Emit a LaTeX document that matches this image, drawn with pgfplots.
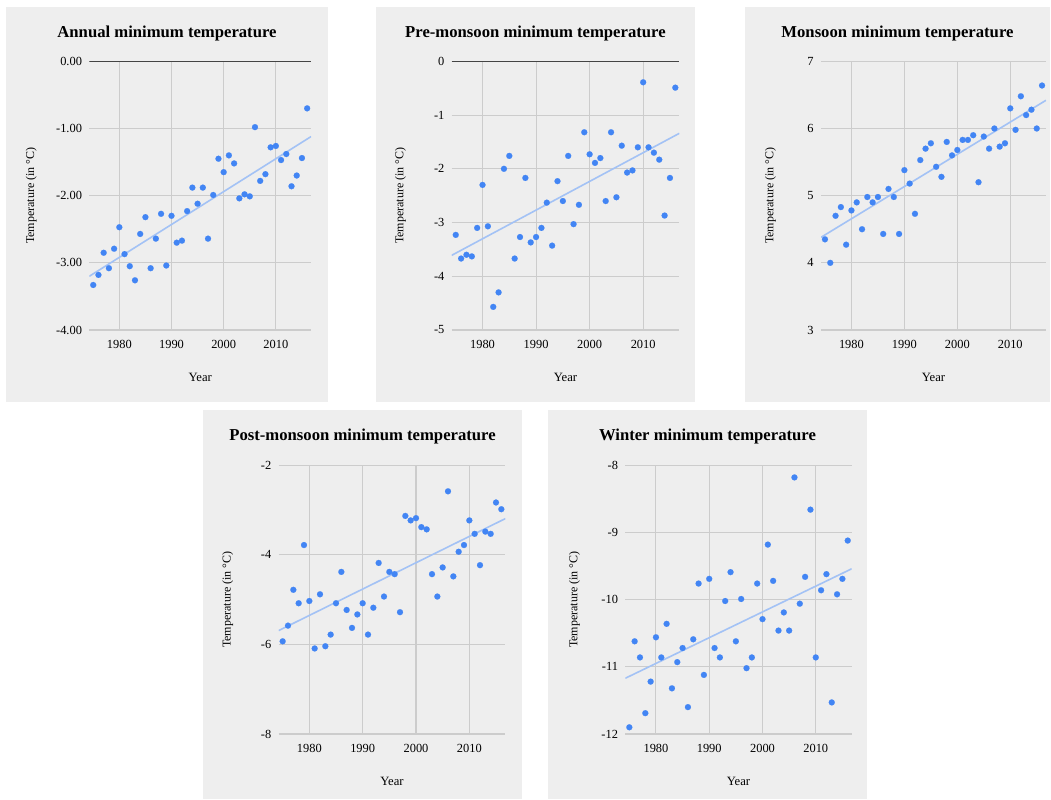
\documentclass[border=0pt]{standalone}
\usepackage{fontspec}
\setmainfont{Liberation Serif}
\usepackage{pgfplots}
\usepackage{pgfplotstable}
\pgfplotsset{compat=1.18}
\definecolor{panelbg}{HTML}{EEEEEE}
\definecolor{dotblue}{HTML}{4285F4}
\definecolor{trendblue}{HTML}{A3C2F5}
\definecolor{gridgray}{HTML}{CCCCCC}
\definecolor{basegray}{HTML}{444444}

\pgfplotstableread{
year val
1975 -3.33
1976 -3.18
1977 -2.85
1978 -3.08
1979 -2.79
1980 -2.47
1981 -2.87
1982 -3.05
1983 -3.26
1984 -2.57
1985 -2.32
1986 -3.08
1987 -2.64
1988 -2.27
1989 -3.04
1990 -2.30
1991 -2.70
1992 -2.67
1993 -2.23
1994 -1.88
1995 -2.12
1996 -1.88
1997 -2.64
1998 -1.99
1999 -1.45
2000 -1.65
2001 -1.40
2002 -1.52
2003 -2.04
2004 -1.98
2005 -2.01
2006 -0.98
2007 -1.78
2008 -1.68
2009 -1.28
2010 -1.26
2011 -1.47
2012 -1.38
2013 -1.86
2014 -1.70
2015 -1.44
2016 -0.70
}\annualdata

\pgfplotstableread{
year val
1975 -3.23
1976 -3.67
1977 -3.60
1978 -3.63
1979 -3.10
1980 -2.30
1981 -3.07
1982 -4.57
1983 -4.30
1984 -2.00
1985 -1.76
1986 -3.67
1987 -3.27
1988 -2.17
1989 -3.37
1990 -3.27
1991 -3.10
1992 -2.63
1993 -3.43
1994 -2.23
1995 -2.60
1996 -1.76
1997 -3.03
1998 -2.67
1999 -1.32
2000 -1.73
2001 -1.89
2002 -1.80
2003 -2.60
2004 -1.32
2005 -2.53
2006 -1.57
2007 -2.07
2008 -2.03
2009 -1.60
2010 -0.39
2011 -1.60
2012 -1.70
2013 -1.83
2014 -2.87
2015 -2.17
2016 -0.49
}\premonsoondata

\pgfplotstableread{
year val
1975 4.35
1976 4.00
1977 4.70
1978 4.83
1979 4.27
1980 4.78
1981 4.90
1982 4.50
1983 4.98
1984 4.90
1985 4.98
1986 4.43
1987 5.10
1988 4.98
1989 4.43
1990 5.38
1991 5.18
1992 4.73
1993 5.53
1994 5.70
1995 5.78
1996 5.43
1997 5.28
1998 5.80
1999 5.60
2000 5.68
2001 5.83
2002 5.83
2003 5.90
2004 5.20
2005 5.88
2006 5.70
2007 6.00
2008 5.73
2009 5.78
2010 6.30
2011 5.98
2012 6.48
2013 6.20
2014 6.28
2015 6.00
2016 6.64
}\monsoondata

\pgfplotstableread{
year val
1975 -5.93
1976 -5.58
1977 -4.78
1978 -5.08
1979 -3.78
1980 -5.03
1981 -6.09
1982 -4.88
1983 -6.04
1984 -5.78
1985 -5.08
1986 -4.38
1987 -5.23
1988 -5.63
1989 -5.33
1990 -5.08
1991 -5.78
1992 -5.18
1993 -4.18
1994 -4.93
1995 -4.38
1996 -4.43
1997 -5.28
1998 -3.13
1999 -3.23
2000 -3.18
2001 -3.38
2002 -3.43
2003 -4.43
2004 -4.93
2005 -4.28
2006 -2.58
2007 -4.48
2008 -3.93
2009 -3.78
2010 -3.23
2011 -3.53
2012 -4.23
2013 -3.48
2014 -3.53
2015 -2.83
2016 -2.98
}\postmonsoondata

\pgfplotstableread{
year val
1975 -11.90
1976 -10.62
1977 -10.86
1978 -11.69
1979 -11.22
1980 -10.56
1981 -10.86
1982 -10.36
1983 -11.32
1984 -10.93
1985 -10.72
1986 -11.60
1987 -10.59
1988 -9.76
1989 -11.12
1990 -9.69
1991 -10.72
1992 -10.86
1993 -10.02
1994 -9.59
1995 -10.62
1996 -9.99
1997 -11.02
1998 -10.86
1999 -9.76
2000 -10.29
2001 -9.18
2002 -9.72
2003 -10.46
2004 -10.19
2005 -10.46
2006 -8.18
2007 -10.06
2008 -9.66
2009 -8.66
2010 -10.86
2011 -9.86
2012 -9.62
2013 -11.53
2014 -9.92
2015 -9.69
2016 -9.12
}\winterdata

\pgfplotsset{
  panel/.style={
    scale only axis,
    height=201.5pt,
    xmin=1974.25, xmax=2016.75,
    xtick={1980,1990,2000,2010},
    axis line style={draw=none},
    major tick length=0pt,
    tick style={draw=none},
    grid=major,
    major grid style={color=gridgray, line width=0.8pt},
    /pgf/number format/assume math mode=true,
    x tick label style={/pgf/number format/1000 sep={}, font=\fontsize{9.3}{10}\selectfont, yshift=-4.5pt},
    y tick label style={font=\fontsize{9.3}{10}\selectfont, xshift=-2pt},
    xlabel={Year},
    ylabel={Temperature (in °C)},
    xlabel style={font=\fontsize{9.5}{11}\selectfont, at={(axis description cs:0.5,-0.178)}, anchor=center},
    ylabel style={font=\fontsize{9}{10}\selectfont, at={(axis description cs:-0.225,0.5)}, anchor=center},
  },
  dots/.style={only marks, mark=*, mark size=2.25pt, mark options={fill=dotblue, draw=dotblue, line width=0.1pt, solid}},
  trend/.style={no marks, color=trendblue, line width=1.2pt},
}

\begin{document}
\begin{tikzpicture}
% canvas
\fill[white] (0,0) rectangle (788.25pt,600pt);
% panel backgrounds
\fill[panelbg] (4.5pt,298.7pt) rectangle (246pt,594.75pt);
\fill[panelbg] (282pt,298.7pt) rectangle (521.25pt,594.75pt);
\fill[panelbg] (558.75pt,298.7pt) rectangle (787.5pt,594.75pt);
\fill[panelbg] (152.25pt,0.75pt) rectangle (391.5pt,292.5pt);
\fill[panelbg] (411pt,0.75pt) rectangle (650.25pt,292.5pt);

% titles
\node[font=\fontsize{12.5}{14}\selectfont\bfseries] at (125.25pt,575pt) {Annual minimum temperature};
\node[font=\fontsize{12.5}{14}\selectfont\bfseries] at (401.6pt,575pt) {Pre-monsoon minimum temperature};
\node[font=\fontsize{12.5}{14}\selectfont\bfseries] at (673.1pt,575pt) {Monsoon minimum temperature};
\node[font=\fontsize{12.5}{14}\selectfont\bfseries] at (271.9pt,272.5pt) {Post-monsoon minimum temperature};
\node[font=\fontsize{12.5}{14}\selectfont\bfseries] at (530.6pt,272.5pt) {Winter minimum temperature};

% Panel 1: Annual
\begin{axis}[panel, at={(67pt,352.5pt)}, anchor=south west, width=166.3pt,
  ymin=-4, ymax=0, ytick={-4,-3,-2,-1,0},
  yticklabel style={/pgf/number format/.cd, fixed, fixed zerofill, precision=2},
  ylabel style={at={(axis description cs:-0.262,0.5)}}]
  \addplot[color=basegray, line width=1pt, no marks] coordinates {(1974.25,0) (2016.75,0)};
  \addplot[trend] coordinates {(1974.25,-3.20) (2016.75,-1.12)};
  \addplot[dots] table[x=year, y=val] {\annualdata};
\end{axis}

% Panel 2: Pre-monsoon
\begin{axis}[panel, at={(338.8pt,352.5pt)}, anchor=south west, width=170.7pt,
  ymin=-5, ymax=0, ytick={-5,-4,-3,-2,-1,0}]
  \addplot[color=basegray, line width=1pt, no marks] coordinates {(1974.25,0) (2016.75,0)};
  \addplot[trend] coordinates {(1974.25,-3.61) (2016.75,-1.34)};
  \addplot[dots] table[x=year, y=val] {\premonsoondata};
\end{axis}

% Panel 3: Monsoon
\begin{axis}[panel, at={(615.75pt,352.5pt)}, anchor=south west, width=168.75pt,
  ymin=3, ymax=7, ytick={3,4,5,6,7}]
  \addplot[trend] coordinates {(1974.25,4.38) (2016.75,6.42)};
  \addplot[dots] table[x=year, y=val] {\monsoondata};
\end{axis}

% Panel 4: Post-monsoon
\begin{axis}[panel, at={(209pt,49.5pt)}, anchor=south west, width=170pt,
  ymin=-8, ymax=-2, ytick={-8,-6,-4,-2}]
  \addplot[trend] coordinates {(1974.25,-5.69) (2016.75,-3.19)};
  \addplot[dots] table[x=year, y=val] {\postmonsoondata};
\end{axis}

% Panel 5: Winter
\begin{axis}[panel, at={(469pt,49.5pt)}, anchor=south west, width=169.8pt,
  ymin=-12, ymax=-8, ytick={-12,-11,-10,-9,-8}]
  \addplot[trend] coordinates {(1974.25,-11.17) (2016.75,-9.54)};
  \addplot[dots] table[x=year, y=val] {\winterdata};
\end{axis}
\end{tikzpicture}
\end{document}
